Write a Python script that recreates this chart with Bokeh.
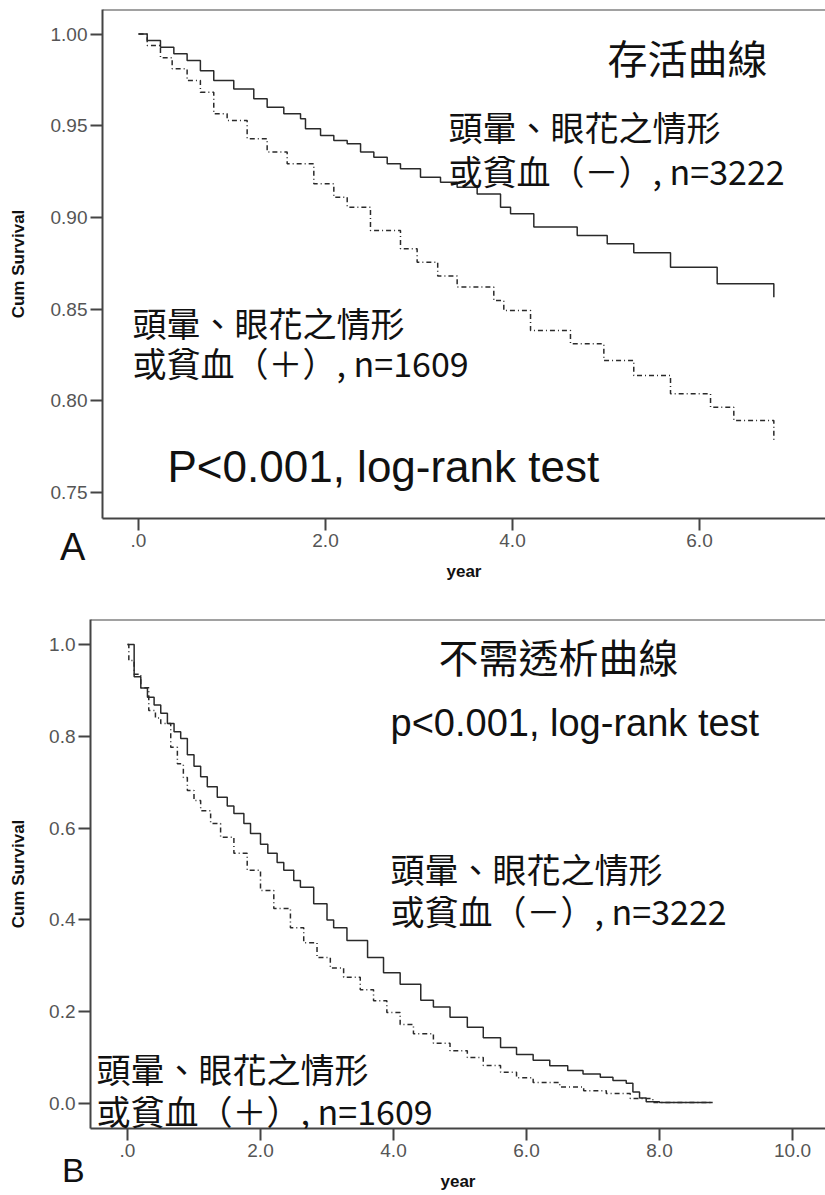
from bokeh.plotting import figure
from bokeh.models import FixedTicker, Label, Span, Range1d, Div
from bokeh.layouts import column
from bokeh.embed import file_html
from bokeh.resources import INLINE

# ---------------- Panel A : survival ----------------
a_neg_years = [0, 0.093, 0.235, 0.378, 0.52, 0.662, 0.805, 1.019, 1.233, 1.376, 1.554, 1.733,
               1.786, 1.947, 2.089, 2.232, 2.375, 2.517, 2.66, 2.802, 3.016, 3.23, 3.408, 3.622,
               3.872, 3.979, 4.228, 4.692, 5.013, 5.297, 5.69, 6.189, 6.795]
a_neg_surv = [1.0, 0.9965, 0.9928, 0.9892, 0.9856, 0.980, 0.9746, 0.970, 0.9647, 0.960, 0.9565,
              0.9538, 0.9483, 0.9447, 0.9419, 0.9401, 0.9356, 0.9328, 0.9292, 0.9265, 0.9219,
              0.9192, 0.9165, 0.9128, 0.9056, 0.902, 0.8947, 0.8901, 0.8856, 0.8807, 0.8728,
              0.8638, 0.8565]
a_pos_years = [0, 0.093, 0.235, 0.36, 0.52, 0.662, 0.805, 0.948, 1.162, 1.376, 1.59, 1.875,
               2.089, 2.232, 2.481, 2.802, 2.98, 3.2, 3.408, 3.80, 3.907, 4.193, 4.62, 4.977,
               5.297, 5.69, 6.118, 6.367, 6.795]
a_pos_surv = [1.0, 0.9937, 0.987, 0.981, 0.9746, 0.9683, 0.9565, 0.9528, 0.9429, 0.9356,
              0.9292, 0.9183, 0.911, 0.9056, 0.8929, 0.8829, 0.8756, 0.868, 0.862, 0.8547,
              0.8492, 0.8383, 0.8311, 0.822, 0.8138, 0.8038, 0.7965, 0.7893, 0.7784]
a_x_ticks = [0, 2, 4, 6]
a_x_labels = [".0", "2.0", "4.0", "6.0"]
a_y_ticks = [1.00, 0.95, 0.90, 0.85, 0.80, 0.75]
a_y_labels = ["1.00", "0.95", "0.90", "0.85", "0.80", "0.75"]

# ---------------- Panel B : dialysis-free ----------------
b_neg_years = [0, 0.10, 0.20, 0.30, 0.40, 0.50, 0.60, 0.70, 0.80, 0.90, 1.00, 1.10, 1.20, 1.35,
               1.50, 1.60, 1.75, 1.85, 2.00, 2.11, 2.25, 2.35, 2.50, 2.60, 2.80, 3.00, 3.10, 3.30,
               3.61, 3.85, 4.10, 4.41, 4.60, 4.85, 5.11, 5.35, 5.61, 5.85, 6.10, 6.35, 6.62, 6.85,
               7.11, 7.30, 7.50, 7.60, 7.70, 7.80, 8.00, 8.80]
b_neg_surv = [1.0, 0.930, 0.905, 0.885, 0.868, 0.850, 0.828, 0.810, 0.795, 0.760, 0.735, 0.712,
              0.690, 0.667, 0.648, 0.632, 0.610, 0.588, 0.565, 0.545, 0.525, 0.508, 0.486, 0.471,
              0.435, 0.400, 0.383, 0.355, 0.318, 0.285, 0.260, 0.225, 0.210, 0.188, 0.166, 0.143,
              0.122, 0.107, 0.094, 0.082, 0.072, 0.064, 0.057, 0.050, 0.044, 0.025, 0.012, 0.004,
              0.002, 0.002]
b_pos_years = [0, 0.02, 0.10, 0.20, 0.32, 0.42, 0.50, 0.65, 0.75, 0.84, 0.90, 1.00, 1.10, 1.25,
               1.40, 1.60, 1.80, 2.00, 2.20, 2.45, 2.65, 2.85, 3.05, 3.25, 3.50, 3.70, 3.90, 4.10,
               4.30, 4.60, 4.85, 5.11, 5.35, 5.61, 5.85, 6.10, 6.50, 6.86, 7.20, 7.56, 7.90, 8.80]
b_pos_surv = [1.0, 0.965, 0.935, 0.906, 0.856, 0.840, 0.828, 0.776, 0.740, 0.710, 0.682, 0.660,
              0.638, 0.610, 0.580, 0.545, 0.508, 0.464, 0.425, 0.383, 0.350, 0.318, 0.295, 0.275,
              0.248, 0.224, 0.198, 0.172, 0.152, 0.131, 0.115, 0.100, 0.083, 0.068, 0.056, 0.046,
              0.036, 0.028, 0.022, 0.011, 0.002, 0.002]
b_x_ticks = [0, 2, 4, 6, 8, 10]
b_x_labels = [".0", "2.0", "4.0", "6.0", "8.0", "10.0"]
b_y_ticks = [1.0, 0.8, 0.6, 0.4, 0.2, 0.0]
b_y_labels = ["1.0", "0.8", "0.6", "0.4", "0.2", "0.0"]

CJK = "Noto Sans CJK TC"
SANS = "Liberation Sans"
LINE = "#2a2a2a"
AXIS = "#444444"


def style(p, xt, xl, yt, yl):
    p.frame_align = False
    p.outline_line_color = None
    p.xgrid.visible = False
    p.ygrid.visible = False
    p.background_fill_color = "white"
    p.border_fill_color = "white"
    p.xaxis.ticker = FixedTicker(ticks=xt)
    p.yaxis.ticker = FixedTicker(ticks=yt)
    p.xaxis.major_label_overrides = {t: s for t, s in zip(xt, xl)}
    p.yaxis.major_label_overrides = {t: s for t, s in zip(yt, yl)}
    for ax in (p.xaxis, p.yaxis):
        ax.axis_line_color = AXIS
        ax.axis_line_width = 2
        ax.major_tick_line_color = AXIS
        ax.major_tick_line_width = 2
        ax.major_tick_out = 12
        ax.major_tick_in = 0
        ax.minor_tick_line_color = None
        ax.major_label_text_font = SANS
        ax.major_label_text_font_size = "19px"
        ax.major_label_text_color = "#555555"
        ax.major_label_standoff = 3
        ax.axis_label_text_font = SANS
        ax.axis_label_text_font_style = "bold"
        ax.axis_label_text_font_size = "17px"
        ax.axis_label_text_color = "#111111"
    p.xaxis.axis_label = "year"
    p.yaxis.axis_label = "Cum Survival"
    p.add_layout(Span(location=p.y_range.end, dimension="width",
                      line_color=AXIS, line_width=2))


def lab(p, text, x, y, size, font, align="left"):
    p.add_layout(Label(x=x, y=y, text=text, text_font=font, text_font_size=f"{size}px",
                       text_align=align, text_baseline="middle", text_color="#111111"))


def panel_letter(text, left, top, size):
    # panel letters sit outside the plot frames, so they are placed on the page itself
    return Div(text=text, styles={"position": "absolute", "left": f"{left}px",
                                  "top": f"{top}px", "font-family": SANS,
                                  "font-size": f"{size}px", "line-height": "1",
                                  "color": "#111111", "margin": "0", "padding": "0"})


# ---------- figure A ----------
AX = lambda px: (px - 138) / 93.5
AY = lambda py: 1 - (py - 33.5) / 1834.0

pa = figure(width=825, height=590, output_backend="svg", toolbar_location=None,
            x_range=Range1d(AX(102), AX(825)), y_range=Range1d(AY(518), AY(9)),
            min_border_left=102, min_border_right=0, min_border_top=9, min_border_bottom=72)
style(pa, a_x_ticks, a_x_labels, a_y_ticks, a_y_labels)
pa.xaxis.axis_label_standoff = 12
pa.yaxis.axis_label_standoff = 20

pa.step(a_neg_years, a_neg_surv, mode="after", line_color=LINE, line_width=1.5)
pa.step(a_pos_years, a_pos_surv, mode="after", line_color=LINE, line_width=1.5,
        line_dash="5 3 1 3")

lab(pa, "存活曲線", AX(687), AY(56), 40, CJK, "center")
lab(pa, "頭暈、眼花之情形", AX(448), AY(126), 34, CJK)
lab(pa, "或貧血（－）, n=3222", AX(448), AY(170), 34, CJK)
lab(pa, "頭暈、眼花之情形", AX(132), AY(322), 34, CJK)
lab(pa, "或貧血（＋）, n=1609", AX(132), AY(362), 34, CJK)
lab(pa, "P<0.001, log-rank test", AX(167), AY(466), 44, SANS)

# ---------- figure B ----------
BX = lambda px: (px - 127) / 66.5
BY = lambda py: (1103 - py) / 459.0  # py measured on the whole page
OFF = 590

pb = figure(width=825, height=605, output_backend="svg", toolbar_location=None,
            x_range=Range1d(BX(90), BX(825)), y_range=Range1d(BY(1128), BY(619)),
            min_border_left=90, min_border_right=0, min_border_top=619 - OFF,
            min_border_bottom=1195 - 1128)
style(pb, b_x_ticks, b_x_labels, b_y_ticks, b_y_labels)
pb.xaxis.axis_label_standoff = 12
pb.yaxis.axis_label_standoff = 18

pb.step(b_neg_years, b_neg_surv, mode="after", line_color=LINE, line_width=1.5)
pb.step(b_pos_years, b_pos_surv, mode="after", line_color=LINE, line_width=1.5,
        line_dash="5 3 1 3")

lab(pb, "不需透析曲線", BX(558), BY(655), 40, CJK, "center")
lab(pb, "p<0.001, log-rank test", BX(390), BY(722), 38, SANS)
lab(pb, "頭暈、眼花之情形", BX(390), BY(868), 34, CJK)
lab(pb, "或貧血（－）, n=3222", BX(390), BY(910), 34, CJK)
lab(pb, "頭暈、眼花之情形", BX(96), BY(1068), 34, CJK)
lab(pb, "或貧血（＋）, n=1609", BX(96), BY(1110), 34, CJK)

letter_a = panel_letter("A", 60, 528, 38)
letter_b = panel_letter("B", 62, 1153, 34)

layout = column(pa, pb, letter_a, letter_b, spacing=0)
open("out.html", "w").write(file_html(layout, INLINE))
